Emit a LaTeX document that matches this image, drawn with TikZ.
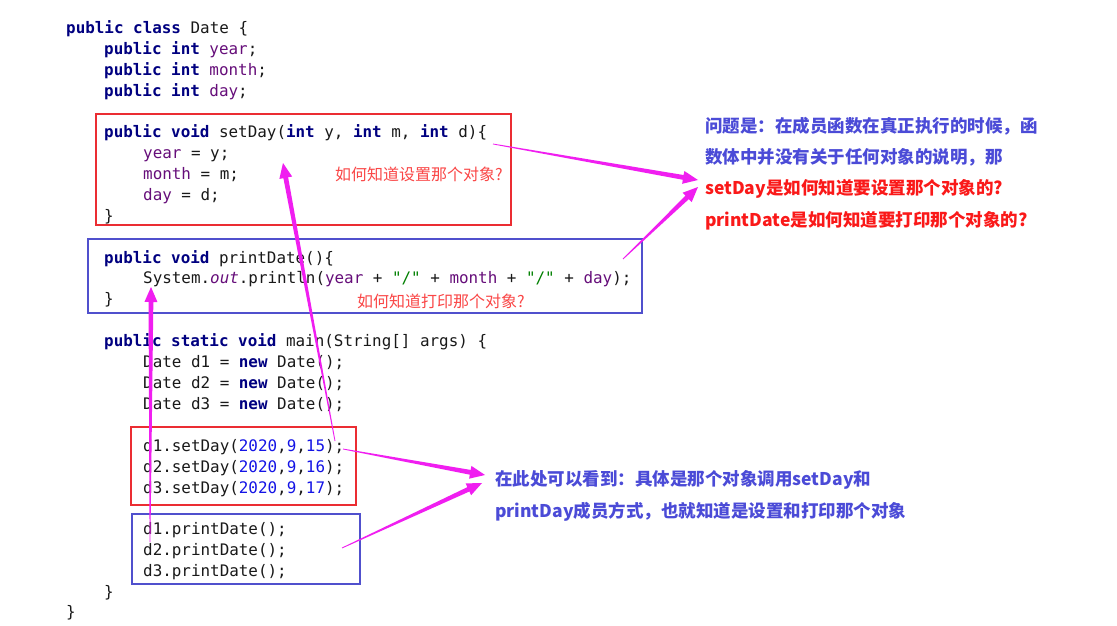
\documentclass[tikz,border=0pt]{standalone}
\usepackage{fontspec}
\setmonofont{DejaVu Sans Mono}
\newfontfamily\cjk{Noto Sans CJK SC}
\usetikzlibrary{calc}
\definecolor{kwcol}{RGB}{0,0,128}
\definecolor{fdcol}{RGB}{102,14,122}
\definecolor{strcol}{RGB}{0,128,0}
\definecolor{numcol}{RGB}{20,20,230}
\definecolor{codeblack}{RGB}{25,25,25}
\definecolor{boxred}{RGB}{235,45,50}
\definecolor{boxblue}{RGB}{80,80,205}
\definecolor{arrowcol}{RGB}{240,30,240}
\definecolor{annred}{RGB}{250,70,70}
\definecolor{txtblue}{RGB}{75,75,215}
\definecolor{txtred}{RGB}{250,25,25}
\newcommand\jkw[1]{{\bfseries\color{kwcol}#1}}
\newcommand\jfd[1]{{\color{fdcol}#1}}
\newcommand\jstr[1]{{\color{strcol}#1}}
\newcommand\jnum[1]{{\color{numcol}#1}}
\newcommand\taperarrow[2]{%
  \path ($(#2)!15pt!(#1)$) coordinate (tah);
  \fill[arrowcol] ($(#1)!0.4pt!90:(#2)$) -- ($(tah)!2.4pt!90:(#2)$) -- ($(tah)!6.5pt!90:(#2)$) -- (#2)
    -- ($(tah)!6.5pt!-90:(#2)$) -- ($(tah)!2.4pt!-90:(#2)$) -- ($(#1)!0.4pt!-90:(#2)$) -- cycle;}
\tikzset{
  code/.style={anchor=base west, inner sep=0pt, text=codeblack, font=\ttfamily\fontsize{15.9}{19}\selectfont},
  redbox/.style={draw=boxred, line width=2pt, inner sep=0pt},
  bluebox/.style={draw=boxblue, line width=2pt, inner sep=0pt},
  annot/.style={anchor=west, inner sep=0pt, text=annred, font=\cjk\fontsize{16}{18}\selectfont},
  note/.style={anchor=west, inner sep=0pt, font=\cjk\bfseries\fontsize{17.5}{20}\selectfont},
}
\begin{document}
\begin{tikzpicture}[x=1pt,y=-1pt]
\useasboundingbox[fill=white] (0,0) rectangle (1117,626);
% boxes
\node[redbox, minimum width=415pt, minimum height=111pt] (rb1) at (303.5,169.5) {};
\node[bluebox, minimum width=554pt, minimum height=74pt] (bb1) at (365,276) {};
\node[redbox, minimum width=225pt, minimum height=78pt] (rb2) at (243.5,466) {};
\node[bluebox, minimum width=228pt, minimum height=70pt] (bb2) at (246,549) {};
% code
\begin{scope}[yshift=-1.5pt]
\node[code] (l1) at (66,32) {\jkw{public} \jkw{class} Date \{};
\node[code] (l2) at (104,53) {\jkw{public} \jkw{int} \jfd{year};};
\node[code] (l3) at (104,74) {\jkw{public} \jkw{int} \jfd{month};};
\node[code] (l4) at (104,95) {\jkw{public} \jkw{int} \jfd{day};};
\node[code] (l5) at (104,136) {\jkw{public} \jkw{void} setDay(\jkw{int} y, \jkw{int} m, \jkw{int} d)\{};
\node[code] (l6) at (143,157) {\jfd{year} = y;};
\node[code] (l7) at (143,178) {\jfd{month} = m;};
\node[code] (l8) at (143,199) {\jfd{day} = d;};
\node[code] (l9) at (104,220) {\}};
\node[code] (l10) at (104,262) {\jkw{public} \jkw{void} printDate()\{};
\node[code] (l11) at (143,282) {System.{\itshape\color{fdcol}out}.println(\jfd{year} + \jstr{"/"} + \jfd{month} + \jstr{"/"} + \jfd{day});};
\node[code] (l12) at (104,303) {\}};
\node[code] (l13) at (104,345) {\jkw{public} \jkw{static} \jkw{void} main(String[] args) \{};
\node[code] (l14) at (143,366) {Date d1 = \jkw{new} Date();};
\node[code] (l15) at (143,387) {Date d2 = \jkw{new} Date();};
\node[code] (l16) at (143,408) {Date d3 = \jkw{new} Date();};
\node[code] (l17) at (143,450) {d1.setDay(\jnum{2020},\jnum{9},\jnum{15});};
\node[code] (l18) at (143,471) {d2.setDay(\jnum{2020},\jnum{9},\jnum{16});};
\node[code] (l19) at (143,492) {d3.setDay(\jnum{2020},\jnum{9},\jnum{17});};
\node[code] (l20) at (143,533) {d1.printDate();};
\node[code] (l21) at (143,554) {d2.printDate();};
\node[code] (l22) at (143,575) {d3.printDate();};
\node[code] (l23) at (104,596) {\}};
\node[code] (l24) at (66,616) {\}};
\end{scope}
% annotations
\node[annot] (n1) at (335,174) {如何知道设置那个对象?};
\node[annot] (n2) at (357,301) {如何知道打印那个对象?};
\node[note, text=txtblue] (r1) at (705,126) {问题是：在成员函数在真正执行的时候，函};
\node[note, text=txtblue] (r2) at (705,157) {数体中并没有关于任何对象的说明，那};
\node[note, text=txtred] (r3) at (705,189) {setDay是如何知道要设置那个对象的?};
\node[note, text=txtred] (r4) at (705,221) {printDate是如何知道要打印那个对象的?};
\node[note, text=txtblue] (b1) at (495,480) {在此处可以看到：具体是那个对象调用setDay和};
\node[note, text=txtblue] (b2) at (495,512) {printDay成员方式，也就知道是设置和打印那个对象};
% arrow ends
\coordinate (s1) at (493,144); \coordinate (t1) at (698,180);
\coordinate (s2) at (623,259); \coordinate (t2) at (698,187);
\coordinate (s3) at (343,449); \coordinate (t3) at (485,475);
\coordinate (s4) at (342,548); \coordinate (t4) at (482,483);
\coordinate (s5) at (335,441); \coordinate (t5) at (283,163);
\coordinate (s6) at (150,542); \coordinate (t6) at (151,287);
\taperarrow{s1}{t1}
\taperarrow{s2}{t2}
\taperarrow{s3}{t3}
\taperarrow{s4}{t4}
\taperarrow{s5}{t5}
\taperarrow{s6}{t6}
\end{tikzpicture}
\end{document}
